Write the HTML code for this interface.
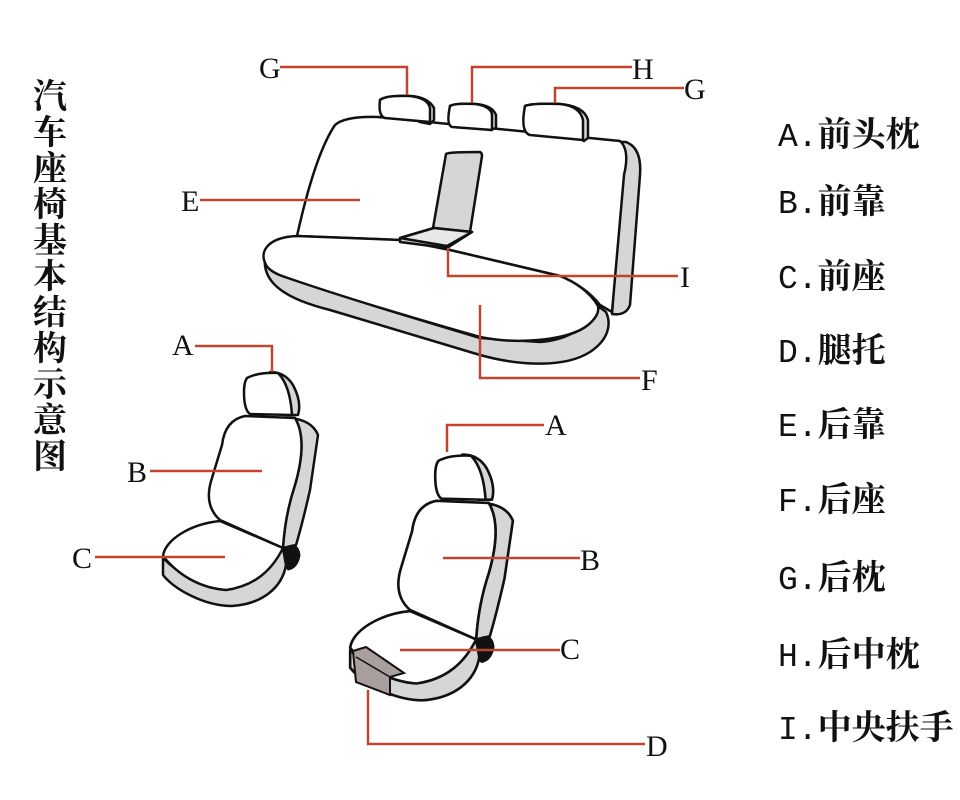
<!DOCTYPE html>
<html><head><meta charset="utf-8"><style>
html,body{margin:0;padding:0;background:#fff;}
svg{display:block}
.l{stroke:#c0452e;stroke-width:2.5;fill:none}
.o{stroke:#111;stroke-width:2.5;fill:#fff;stroke-linejoin:round}
.g{stroke:#111;stroke-width:2.5;fill:#d6d6d6;stroke-linejoin:round}
.t{font-family:"Liberation Serif","Noto Serif CJK SC",serif;font-size:30px;fill:#111}
.lg{font-family:"Liberation Serif","Noto Serif CJK SC",serif;font-size:34px;fill:#111;font-weight:bold}
.lm{font-family:"Liberation Mono",monospace;font-weight:normal;font-size:33px}
</style></head><body>
<svg width="960" height="800" viewBox="0 0 960 800" xmlns="http://www.w3.org/2000/svg">
<!-- title -->
<g class="lg" font-size="33">
<text x="33" y="108">汽</text><text x="33" y="144">车</text><text x="33" y="180">座</text><text x="33" y="216">椅</text><text x="33" y="252">基</text><text x="33" y="288">本</text><text x="33" y="324">结</text><text x="33" y="360">构</text><text x="33" y="396">示</text><text x="33" y="432">意</text><text x="33" y="468">图</text>
</g>

<!-- rear bench -->
<path class="g" d="M626,142 Q642,148 640,175 L630,305 Q626,316 612,314 L622,170 Q624,150 620,142 Z"/>
<path class="o" d="M297,236 C305,200 318,150 335,125 Q345,116 378,117 L620,141 Q630,150 624,175 L612,312 L600,305 C590,292 575,282 560,276 L450,250 L400,240 Z"/>
<path class="g" d="M265,258 C262,285 290,300 330,310 L480,355 C520,366 565,368 590,352 C608,340 612,325 606,312 L598,306 C590,325 570,340 540,342 L480,338 C420,320 340,296 280,275 Q266,270 265,258 Z"/>
<path class="o" d="M297,236 C270,237 258,250 266,265 Q270,272 285,277 C340,296 420,320 480,337 C520,345 570,340 588,325 Q600,315 598,306 C590,292 575,282 560,276 L450,250 L400,240 Z"/>
<path class="g" d="M380,100 Q386,95 410,96 Q428,97 434,108 L434,120 L430,124 L420,122 Z"/>
<path class="o" d="M380,100 Q386,95 410,96 Q428,98 430,108 L430,122 L385,118 Q378,116 380,100 Z"/>
<path class="g" d="M450,106 Q455,103 475,104 Q492,105 496,115 L496,128 L490,130 Z"/>
<path class="o" d="M450,106 Q455,103 475,104 Q490,106 492,114 L492,130 L452,127 Q446,125 450,106 Z"/>
<path class="g" d="M525,106 Q532,103 560,104 Q584,106 588,120 L588,138 L584,141 Z"/>
<path class="o" d="M525,106 Q532,103 560,104 Q580,106 583,120 L583,140 L530,135 Q520,132 525,106 Z"/>
<path class="g" d="M446,154 Q447,152 480,152 Q482,153 482,156 L470,232 L433,228 Z"/>
<path class="g" d="M400,238 L434,228 L472,232 L447,248 L400,242 Z"/>
<path class="o" d="M400,238 L434,228 L472,232 L447,246 Z" style="fill:#e8e8e8"/>

<!-- front seat (left) -->
<g id="seat">
<path class="g" d="M290,418 Q312,420 318,435 L310,490 Q302,525 296,545 L283,548 Q285,515 295,485 Q308,440 295,418 Z"/>
<path d="M284,548 Q298,540 300,555 Q298,568 288,570 L282,562 Z" fill="#111" stroke="#111"/>
<path class="o" d="M245,416 Q225,420 222,445 L212,478 Q203,505 220,520 L283,548 Q285,515 295,485 Q308,440 295,418 Z"/>
<path class="g" d="M270,372 Q285,372 293,385 Q302,402 298,415 L285,415 Z"/>
<path class="o" d="M247,378 Q258,372 278,373 Q290,385 292,415 L250,414 Q244,410 244,392 Q244,382 247,378 Z"/>
<path class="g" d="M163,558 L163,575 C175,590 205,606 232,606 C262,604 282,588 286,565 L283,548 C270,570 250,585 225,588 C200,586 180,575 163,558 Z"/>
<path class="o" d="M220,521 C190,524 165,540 163,556 C178,575 200,588 226,590 C255,586 272,570 283,548 Z"/>
</g>
<use href="#seat" transform="translate(179,64) scale(1.05)"/>
<path d="M353,651 L366,647 L404,673 L390,677 L390,695 L356,682 Z" fill="#a89f9c" stroke="#111" stroke-width="2"/>
<path d="M356,657 L390,677" stroke="#111" stroke-width="1.5"/>

<!-- leader lines -->
<path class="l" d="M280,67 H407 V95"/>
<path class="l" d="M632,67 H472 V103"/>
<path class="l" d="M684,88 H555 V103"/>
<path class="l" d="M200,200 H360"/>
<path class="l" d="M448,248 V276 H678"/>
<path class="l" d="M480,305 V378 H640"/>
<path class="l" d="M195,346 H272 V372"/>
<path class="l" d="M150,471 H262"/>
<path class="l" d="M95,557 H225"/>
<path class="l" d="M544,425 H447 V452"/>
<path class="l" d="M443,558 H580"/>
<path class="l" d="M400,650 H560"/>
<path class="l" d="M368,690 V744 H645"/>

<g class="t">
<text x="259" y="78">G</text><text x="632" y="79">H</text><text x="684" y="99">G</text>
<text x="181" y="211">E</text><text x="680" y="287">I</text><text x="641" y="390">F</text>
<text x="172" y="355">A</text><text x="127" y="482">B</text><text x="72" y="568">C</text>
<text x="545" y="435">A</text><text x="580" y="570">B</text><text x="560" y="659">C</text>
<text x="646" y="756">D</text>
</g>

<g class="lg">
<text x="778" y="146"><tspan class="lm">A.</tspan>前头枕</text>
<text x="778" y="213"><tspan class="lm">B.</tspan>前靠</text>
<text x="778" y="288"><tspan class="lm">C.</tspan>前座</text>
<text x="778" y="362"><tspan class="lm">D.</tspan>腿托</text>
<text x="778" y="436"><tspan class="lm">E.</tspan>后靠</text>
<text x="778" y="511"><tspan class="lm">F.</tspan>后座</text>
<text x="778" y="589"><tspan class="lm">G.</tspan>后枕</text>
<text x="778" y="666"><tspan class="lm">H.</tspan>后中枕</text>
<text x="778" y="739"><tspan class="lm">I.</tspan>中央扶手</text>
</g>
</svg>
</body></html>
